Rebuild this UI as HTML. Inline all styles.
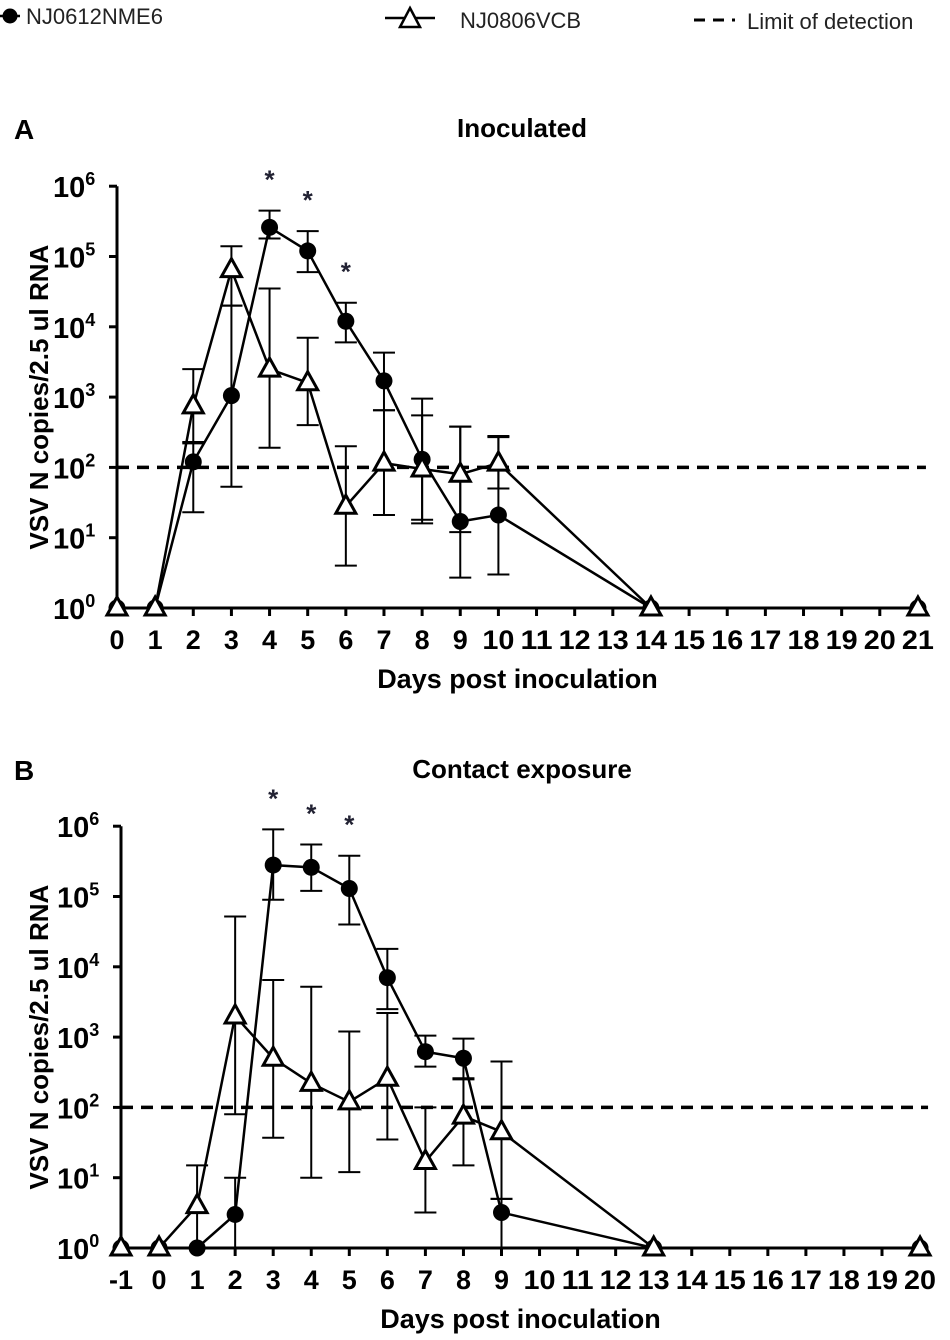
<!DOCTYPE html>
<html><head><meta charset="utf-8"><style>
body{margin:0;background:#fff;}
svg{display:block;font-family:"Liberation Sans",Arial,sans-serif;}
</style></head><body>
<svg id="chart" width="950" height="1340" viewBox="0 0 950 1340">
<g>
 <g><line x1="0" y1="16" x2="20" y2="16" stroke="#000" stroke-width="2.5"/><circle cx="10" cy="16" r="7.5" fill="#000"/><text x="26" y="24" font-size="22" fill="#222">NJ0612NME6</text></g>
 <g><line x1="385" y1="18" x2="435" y2="18" stroke="#000" stroke-width="2.5"/><polygon points="410,8 420,27 400,27" fill="#fff" stroke="#000" stroke-width="2.5"/><text x="460" y="28" font-size="22" fill="#222">NJ0806VCB</text></g>
 <g><line x1="694" y1="20" x2="735" y2="20" stroke="#000" stroke-width="3" stroke-dasharray="11,8"/><text x="747" y="29" font-size="22" fill="#222">Limit of detection</text></g>
</g>
<g id="panelA"></g>
<g id="panelB"></g>
</svg>
<script>
// Panel A data
const aDaysC = [0,1,2,3,4,5,6,7,8,9,10,14,21];
const aValsC = [1,1,120,1050,260000,120000,12000,1700,130,17,21,1,1];
const aHiC   = [1,1,220,20000,450000,230000,22000,4300,950,380,270,1,1];
const aLoC   = [1,1,23,53,180000,60000,6000,650,18,2.7,3,1,1];
const aDaysT = [0,1,2,3,4,5,6,7,8,9,10,14,21];
const aValsT = [1,1,750,65000,2500,1600,28,115,95,80,115,1,1];
const aHiT   = [1,1,2500,140000,35000,7000,200,650,550,380,280,1,1];
const aLoT   = [1,1,230,20000,190,400,4,21,16,12,50,1,1];
const aStars = [4,5,6];
// Panel B data
const bDaysC = [-1,0,1,2,3,4,5,6,7,8,9,13,20];
const bValsC = [1,1,1,3,280000,260000,130000,7000,620,500,3.2,1,1];
const bHiC   = [1,1,1,10,900000,550000,380000,18000,1050,950,5,1,1];
const bLoC   = [1,1,1,1,90000,120000,40000,2500,380,260,1,1,1];
const bDaysT = [-1,0,1,2,3,4,5,6,7,8,9,13,20];
const bValsT = [1,1,4,2000,500,220,120,260,17,75,45,1,1];
const bHiT   = [1,1,15,52000,6500,5200,1200,2200,100,250,450,1,1];
const bLoT   = [1,1,1,80,37,10,12,35,3.2,15,5,1,1];
const bStars = [3,4,5];
const yTicks = [0,1,2,3,4,5,6];
const lod = 100;

const NS='http://www.w3.org/2000/svg';
function mk(parent,tag,attrs,text){const e=document.createElementNS(NS,tag);for(const k in attrs)e.setAttribute(k,attrs[k]);if(text!==undefined)e.textContent=text;parent.appendChild(e);return e;}

function drawPanel(g,cfg){
  const x=d=>cfg.x0+(d-cfg.dmin)*cfg.step;
  const y=v=>cfg.yBase-Math.log10(v)*cfg.dec;
  const yTop=y(1e6);
  let ax=mk(g,'line',{x1:x(cfg.dmin),y1:yTop,x2:x(cfg.dmin),y2:cfg.yBase,stroke:'#000','stroke-width':3});
  
  
  ax=mk(g,'line',{x1:x(cfg.dmin),y1:cfg.yBase,x2:x(cfg.dmax),y2:cfg.yBase,stroke:'#000','stroke-width':3});
  
  
  yTicks.forEach(p=>{
    const yy=y(Math.pow(10,p));
    mk(g,'line',{x1:x(cfg.dmin)-8,y1:yy,x2:x(cfg.dmin),y2:yy,stroke:'#000','stroke-width':3});
    const t=mk(g,'text',{x:x(cfg.dmin)-64,y:yy+11,'font-size':29,'font-weight':'bold'},'10');
    
    
    mk(t,'tspan',{dy:-12,'font-size':18},String(p));
  });
  for(let d=cfg.dmin;d<=cfg.dmax;d++){
    mk(g,'line',{x1:x(d),y1:cfg.yBase,x2:x(d),y2:cfg.yBase+8,stroke:'#000','stroke-width':3});
    const tl=d>=10?32:(d<0?24:15);
    const t=mk(g,'text',{x:x(d),y:cfg.yBase+41,'font-size':27,'font-weight':'bold','text-anchor':'middle',textLength:tl,lengthAdjust:'spacingAndGlyphs'},String(d));
    
    
  }
  let t=mk(g,'text',{x:(x(cfg.dmin)+x(cfg.dmax))/2,y:cfg.yBase+80,'font-size':27,'font-weight':'bold','text-anchor':'middle'},'Days post inoculation');
  
  
  const cy=(yTop+cfg.yBase)/2;
  t=mk(g,'text',{x:48,y:cy,'font-size':26,'font-weight':'bold','text-anchor':'middle',transform:`rotate(-90 48 ${cy})`},'VSV N copies/2.5 ul RNA');
  
  
  t=mk(g,'text',{x:522,y:cfg.titleY,'font-size':26,'font-weight':'bold','text-anchor':'middle'},cfg.title);
  
  
  t=mk(g,'text',{x:14,y:cfg.titleY+2,'font-size':28,'font-weight':'bold'},cfg.label);
  
  
  const l=mk(g,'line',{x1:x(cfg.dmin),y1:y(lod),x2:x(cfg.dmax)+8,y2:y(lod),stroke:'#000','stroke-width':3.5,'stroke-dasharray':'12,8'});
  
  
  function series(days,vals,hi,lo,kind){
    const sg=mk(g,'g',{});
    
    
    days.forEach((d,i)=>{
      if(hi[i]>vals[i]){mk(sg,'line',{x1:x(d),y1:y(hi[i]),x2:x(d),y2:y(vals[i]),stroke:'#000','stroke-width':2});mk(sg,'line',{x1:x(d)-11,y1:y(hi[i]),x2:x(d)+11,y2:y(hi[i]),stroke:'#000','stroke-width':2});}
      if(lo[i]<vals[i]){mk(sg,'line',{x1:x(d),y1:y(lo[i]),x2:x(d),y2:y(vals[i]),stroke:'#000','stroke-width':2});mk(sg,'line',{x1:x(d)-11,y1:y(lo[i]),x2:x(d)+11,y2:y(lo[i]),stroke:'#000','stroke-width':2});}
    });
    mk(sg,'polyline',{points:days.map((d,i)=>x(d)+','+y(vals[i])).join(' '),fill:'none',stroke:'#000','stroke-width':2.5});
    days.forEach((d,i)=>{
      let m;
      if(kind==='c') m=mk(sg,'circle',{cx:x(d),cy:y(vals[i]),r:8.5,fill:'#000'});
      else {const cx=x(d),cy2=y(vals[i]);m=mk(sg,'polygon',{points:`${cx},${cy2-11} ${cx+10},${cy2+7} ${cx-10},${cy2+7}`,fill:'#fff',stroke:'#000','stroke-width':3});}
      
      
    });
  }
  series(cfg.dc,cfg.vc,cfg.hc,cfg.lc,'c');
  series(cfg.dt,cfg.vt,cfg.ht,cfg.lt,'t');
  cfg.stars.forEach(d=>{
    const i=cfg.dc.indexOf(d);
    const s=mk(g,'text',{x:x(d),y:y(cfg.hc[i])-22,'font-size':26,'font-weight':'bold','text-anchor':'middle',fill:'#223'},'*');
    
    
  });
}
drawPanel(document.getElementById('panelA'),{x0:117,dmin:0,dmax:21,step:38.14,yBase:608,dec:70.3,title:'Inoculated',label:'A',titleY:137,
 dc:aDaysC,vc:aValsC,hc:aHiC,lc:aLoC,dt:aDaysT,vt:aValsT,ht:aHiT,lt:aLoT,stars:aStars});
drawPanel(document.getElementById('panelB'),{x0:121,dmin:-1,dmax:20,step:38.05,yBase:1248,dec:70.3,title:'Contact exposure',label:'B',titleY:778,
 dc:bDaysC,vc:bValsC,hc:bHiC,lc:bLoC,dt:bDaysT,vt:bValsT,ht:bHiT,lt:bLoT,stars:bStars});
</script>
</body></html>
